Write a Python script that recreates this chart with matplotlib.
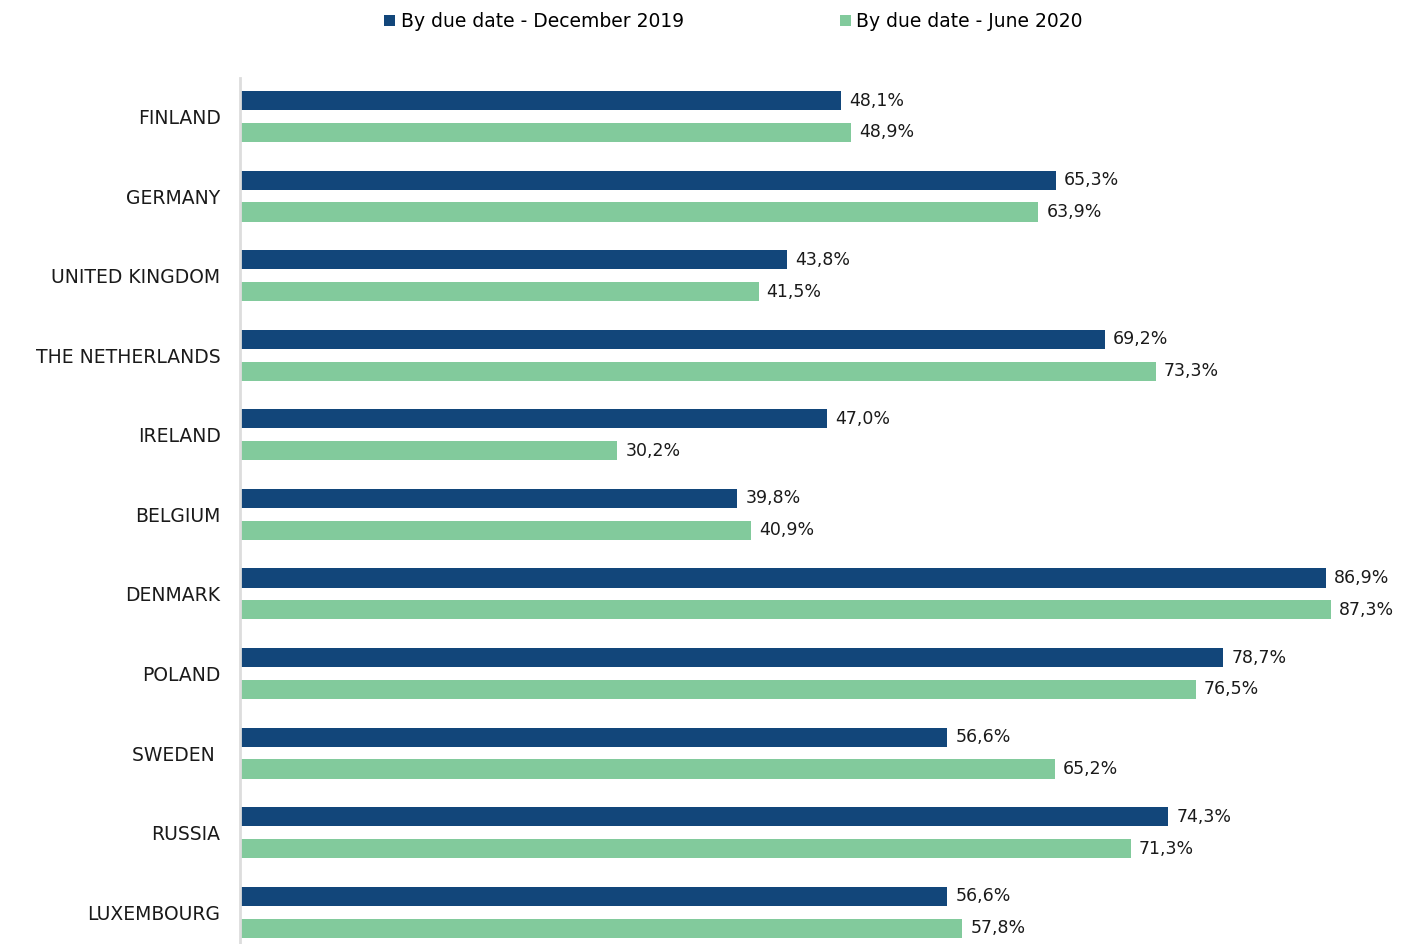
import numpy as np
import matplotlib.pyplot as plt

countries = ['FINLAND', 'GERMANY', 'UNITED KINGDOM', 'THE NETHERLANDS', 'IRELAND',
             'BELGIUM', 'DENMARK', 'POLAND', 'SWEDEN ', 'RUSSIA', 'LUXEMBOURG']
dec_2019 = [48.1, 65.3, 43.8, 69.2, 47.0, 39.8, 86.9, 78.7, 56.6, 74.3, 56.6]
jun_2020 = [48.9, 63.9, 41.5, 73.3, 30.2, 40.9, 87.3, 76.5, 65.2, 71.3, 57.8]

c_dec = '#12467A'
c_jun = '#82CA9C'

fig = plt.figure(figsize=(14.27, 9.44), dpi=100)
ax = fig.add_axes([240 / 1427, 0, 1 - 240 / 1427, 1 - 78 / 944])

y = np.arange(len(countries))
h = 0.24
b1 = ax.barh(y - 0.2, dec_2019, height=h, color=c_dec, label='By due date - December 2019')
b2 = ax.barh(y + 0.2, jun_2020, height=h, color=c_jun, label='By due date - June 2020')

# value labels with decimal comma
for bars, vals in ((b1, dec_2019), (b2, jun_2020)):
    for bar, v in zip(bars, vals):
        ax.text(v + 0.65, bar.get_y() + bar.get_height() / 2,
                f'{v:.1f}%'.replace('.', ','), va='center', ha='left',
                fontsize=12.5, color='#1a1a1a')

ax.set_xlim(0, 95)
ax.set_ylim(10.4, -0.484)
ax.set_yticks(y)
ax.set_yticklabels(countries, fontsize=13.5, color='#1a1a1a')
ax.tick_params(axis='y', length=0, pad=14)
ax.set_xticks([])
for s in ('top', 'right', 'bottom'):
    ax.spines[s].set_visible(False)
ax.spines['left'].set_color('#DDDDDD')
ax.spines['left'].set_linewidth(2)

fig.legend(handles=[b1, b2], loc='upper center', bbox_to_anchor=(0.514, 1.005), ncol=2,
           frameon=False, fontsize=13.5, handlelength=0.6, handleheight=0.6,
           handletextpad=0.3, columnspacing=8.3)

fig.savefig('out.png', dpi=100)
